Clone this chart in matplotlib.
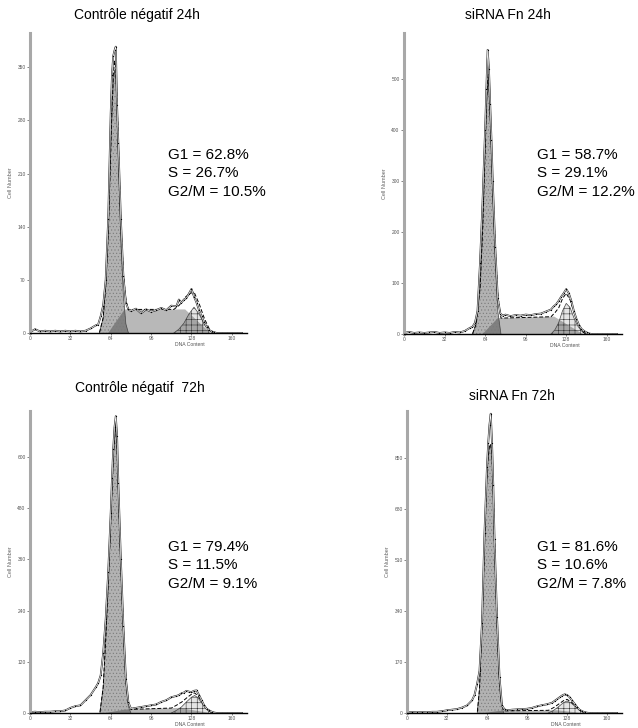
import numpy as np
import matplotlib
matplotlib.use("Agg")
import matplotlib.pyplot as plt

plt.rcParams['font.family'] = ['Liberation Sans', 'DejaVu Sans']
plt.rcParams['hatch.linewidth'] = 0.4

W, H = 638, 728

# ---------------- data ----------------
titles = ["Contrôle négatif 24h", "siRNA Fn 24h", "Contrôle négatif  72h", "siRNA Fn 72h"]
stats = [["G1 = 62.8%", "S = 26.7%", "G2/M = 10.5%"],
         ["G1 = 58.7%", "S = 29.1%", "G2/M = 12.2%"],
         ["G1 = 79.4%", "S = 11.5%", "G2/M = 9.1%"],
         ["G1 = 81.6%", "S = 10.6%", "G2/M = 7.8%"]]

x_ticks = [0, 32, 64, 96, 128, 160]
y_ticks_p1 = [0, 70, 140, 210, 280, 350]
y_ticks_p2 = [0, 100, 200, 300, 400, 500]
y_ticks_p3 = [0, 120, 240, 360, 480, 600]
y_ticks_p4 = [0, 170, 340, 510, 680, 850]
y_max = [395, 590, 708, 1005]

channels = [0, 4, 8, 12, 16, 20, 24, 28, 32, 36, 40, 44, 48, 52, 54, 56, 58, 60, 62, 64,
            65, 66, 67, 68, 69, 70, 72, 74, 76, 78, 80, 84, 88, 92, 96, 100, 104, 108, 112, 116,
            118, 120, 122, 124, 126, 128, 130, 132, 134, 136, 138, 140, 142, 144, 146, 148, 152, 156, 160, 164, 168]

raw_p1 = [1, 5, 2, 3, 2, 3, 2, 3, 2, 3, 2, 3, 6, 10, 11, 22, 36, 70, 150, 290,
          340, 365, 372, 377, 300, 250, 150, 75, 40, 31, 29, 32, 26, 31, 28, 30, 33, 30, 36, 35,
          44, 40, 44, 46, 52, 58, 48, 40, 30, 22, 14, 8, 4, 2, 1, 0, 0, 0, 0, 0, 0]
raw_p2 = [2, 4, 2, 3, 2, 3, 4, 2, 3, 2, 4, 3, 6, 12, 14, 22, 45, 140, 260, 400,
          480, 557, 520, 450, 380, 300, 170, 70, 40, 36, 38, 35, 37, 36, 38, 37, 39, 40, 44, 48,
          54, 58, 65, 73, 80, 88, 80, 65, 45, 30, 18, 10, 6, 3, 1, 0, 0, 0, 0, 0, 0]
raw_p3 = [2, 3, 2, 3, 3, 4, 4, 6, 12, 16, 18, 30, 42, 60, 70, 88, 140, 220, 330, 470,
          550, 620, 670, 696, 650, 540, 360, 205, 80, 25, 10, 12, 14, 16, 18, 20, 26, 30, 37, 40,
          42, 46, 48, 52, 50, 49, 52, 53, 42, 30, 18, 10, 6, 3, 1, 0, 0, 0, 0, 0, 0]
raw_p4 = [2, 3, 2, 3, 2, 4, 4, 6, 9, 11, 13, 18, 25, 42, 60, 95, 140, 300, 600, 820,
          900, 960, 996, 900, 760, 580, 320, 120, 25, 12, 9, 11, 12, 13, 14, 17, 22, 26, 29, 34,
          40, 46, 52, 58, 62, 60, 53, 42, 31, 20, 11, 6, 3, 1, 0, 0, 0, 0, 0, 0, 0]

# fitted components (outline points)
g1_x_p1 = [55, 58, 60, 62, 64, 65, 66, 67, 68, 69, 70, 72, 74, 76, 78]
g1_y_p1 = [0, 20, 60, 130, 240, 290, 330, 346, 335, 290, 230, 120, 50, 12, 0]
s_x_p1 = [62, 75, 123, 143]
s_y_p1 = [0, 31, 31, 0]
g2_x_p1 = [114, 118, 122, 126, 130, 134, 138, 142, 145.5]
g2_y_p1 = [0, 5, 13, 25, 34, 25, 12, 4, 0]

g1_x_p2 = [54, 57, 60, 62, 64, 65, 66, 66.5, 67, 68, 70, 72, 74, 76.5]
g1_y_p2 = [0, 20, 90, 200, 360, 440, 490, 497, 480, 420, 270, 140, 45, 0]
s_x_p2 = [62, 74, 118.6, 141]
s_y_p2 = [0, 31, 34, 0]
g2_x_p2 = [116, 119, 122, 125, 128, 131, 134, 137, 140, 143.5]
g2_y_p2 = [0, 8, 22, 45, 60, 52, 32, 16, 6, 0]

g1_x_p3 = [55.4, 58, 60, 62, 64, 66, 67.8, 69, 70, 72, 74, 76, 78, 80]
g1_y_p3 = [0, 60, 170, 300, 450, 600, 673, 620, 520, 340, 190, 70, 15, 0]
s_x_p3 = [60, 75, 118, 143]
s_y_p3 = [0, 8, 12, 0]
g2_x_p3 = [112, 116, 120, 124, 128, 130.5, 133, 136, 139, 142, 145]
g2_y_p3 = [0, 6, 14, 26, 37, 41, 36, 24, 12, 4, 0]

g1_x_p4 = [56.2, 58, 60, 62, 63.2, 64.5, 65.8, 66.8, 68, 69, 70.2, 72, 73.4, 75, 77.3]
g1_y_p4 = [0, 80, 290, 560, 730, 830, 885, 892, 860, 740, 540, 300, 140, 40, 0]
s_x_p4 = [62, 74, 120, 140]
s_y_p4 = [0, 7, 9, 0]
g2_x_p4 = [113, 117, 121, 125, 128, 131, 135, 138, 142]
g2_y_p4 = [0, 8, 20, 34, 40, 34, 20, 9, 0]

panels = [
    dict(raw=raw_p1, g1=(g1_x_p1, g1_y_p1), s=(s_x_p1, s_y_p1), g2=(g2_x_p1, g2_y_p1), yt=y_ticks_p1),
    dict(raw=raw_p2, g1=(g1_x_p2, g1_y_p2), s=(s_x_p2, s_y_p2), g2=(g2_x_p2, g2_y_p2), yt=y_ticks_p2),
    dict(raw=raw_p3, g1=(g1_x_p3, g1_y_p3), s=(s_x_p3, s_y_p3), g2=(g2_x_p3, g2_y_p3), yt=y_ticks_p3),
    dict(raw=raw_p4, g1=(g1_x_p4, g1_y_p4), s=(s_x_p4, s_y_p4), g2=(g2_x_p4, g2_y_p4), yt=y_ticks_p4),
]

# ---------------- layout (pixels) ----------------
axes_px = [(30, 33, 247, 333), (404, 33, 622, 334), (30, 411, 247, 713), (407, 411, 622, 713)]
title_px = [(137, 15), (508, 15), (140, 388), (512, 396)]
stats_px = [(168, [155, 173, 192]), (537, [155, 173, 192]), (168, [547, 565, 584]), (537, [547, 565, 584])]

fig = plt.figure(figsize=(W / 100, H / 100), dpi=100)
fig.patch.set_facecolor('white')

grid = np.linspace(0, 170, 1701)

for i, p in enumerate(panels):
    l, t, r, b = axes_px[i]
    ax = fig.add_axes([l / W, 1 - b / H, (r - l) / W, (b - t) / H])
    ax.set_xlim(0, 172)
    ax.set_ylim(0, y_max[i])

    sx, sy = p['s']
    gx, gy = p['g1']
    hx, hy = p['g2']
    # S phase
    ax.fill(sx, sy, facecolor=(0, 0, 0, 0.28), edgecolor='none', zorder=2)
    # G1
    ax.fill(gx, gy, facecolor=(0, 0, 0, 0.30), edgecolor='none', zorder=3)
    ax.fill(gx, gy, facecolor='none', edgecolor='#7a7a7a', hatch='.....', linewidth=0, zorder=3)
    # G2/M
    ax.fill(hx, hy, facecolor=(0, 0, 0, 0.10), edgecolor='none', zorder=4)
    ax.fill(hx, hy, facecolor='none', edgecolor='#333333', hatch='+++', linewidth=0, zorder=4)
    ax.plot(hx, hy, color='#444444', lw=0.5, zorder=4)
    ax.plot(gx, gy, color='#444444', lw=0.5, zorder=4)

    # model sum (dashed)
    model = (np.interp(grid, gx, gy, left=0, right=0) + np.interp(grid, sx, sy, left=0, right=0)
             + np.interp(grid, hx, hy, left=0, right=0))
    mask = model > 0.5
    ax.plot(grid[mask], model[mask], color='black', lw=0.7, ls=(0, (4, 2)), zorder=5)

    # raw histogram: white line with black border and dots
    ax.plot(channels, p['raw'], color='#222222', lw=1.3, zorder=6, solid_joinstyle='round')
    ax.plot(channels, p['raw'], color='white', lw=0.5, zorder=7)
    ax.plot(channels, p['raw'], ls='none', marker='o', ms=0.9, mfc='black', mec='none', zorder=7)

    for side in ['top', 'right']:
        ax.spines[side].set_visible(False)
    ax.spines['left'].set_color('#a8a8a8')
    ax.spines['left'].set_linewidth(2.2)
    ax.spines['bottom'].set_color('black')
    ax.spines['bottom'].set_linewidth(1.0)
    ax.spines['left'].set_zorder(8)
    ax.spines['bottom'].set_zorder(8)

    ax.set_xticks(x_ticks)
    ax.set_xticklabels([str(v) for v in x_ticks])
    ax.set_yticks(p['yt'])
    ax.set_yticklabels([str(v) for v in p['yt']])
    ax.tick_params(axis='both', labelsize=3.5, colors='#555555', length=2, width=0.5, pad=1.2)
    ax.tick_params(axis='x', length=1.5, pad=0.6)
    ax.patch.set_alpha(0)

    ax.set_ylabel('Cell Number', fontsize=4, color='#666666', labelpad=3)
    xl = (l + (r - l) * 127 / 172) / W
    fig.text(xl, 1 - (b + 11.5) / H, 'DNA Content', fontsize=3.6, color='#555555',
             ha='center', va='center')

    tx, ty = title_px[i]
    fig.text(tx / W, 1 - ty / H, titles[i], fontsize=10, ha='center', va='center')
    sx0, sys = stats_px[i]
    for line, yy in zip(stats[i], sys):
        fig.text(sx0 / W, 1 - yy / H, line, fontsize=11, ha='left', va='center')

fig.savefig('out.png', dpi=100, facecolor='white')
